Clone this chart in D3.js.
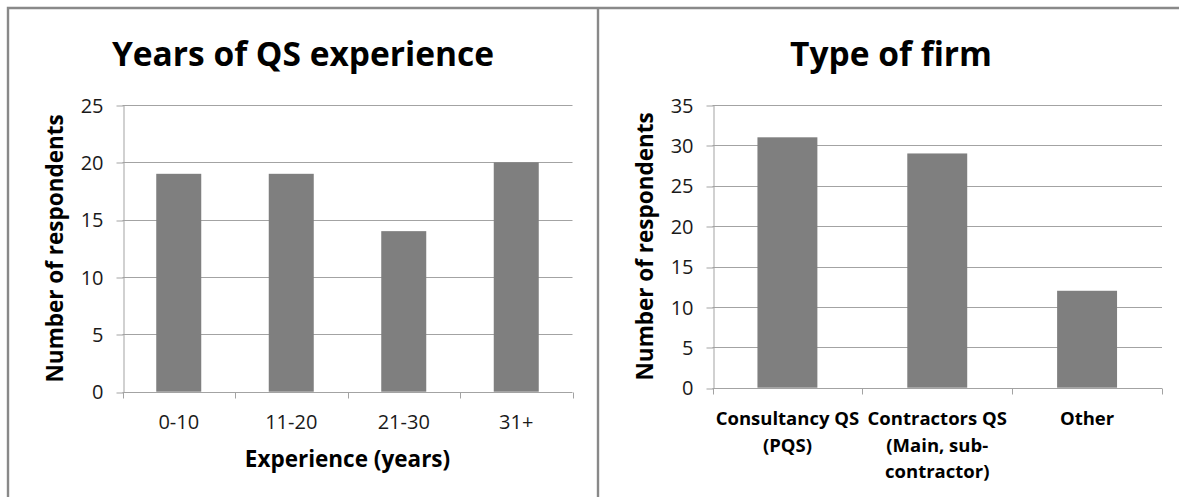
<!DOCTYPE html>
<html>
<head>
<meta charset="utf-8">
<script src="https://cdn.jsdelivr.net/npm/d3@7"></script>
<style>
  html, body { margin: 0; padding: 0; background: #fff; }
  svg { display: block; }
  text { font-family: "Open Sans", Lato, sans-serif; }
</style>
</head>
<body>
<svg id="chart" width="1179" height="497"></svg>
<script>
// Years of QS experience
const experienceCategories = ["0-10", "11-20", "21-30", "31+"];
const experienceValues = [19, 19, 14, 20];
const experienceTicks = [0, 5, 10, 15, 20, 25];

// Type of firm (category labels wrap over several lines)
const firmCategories = [
  ["Consultancy QS", "(PQS)"],
  ["Contractors QS", "(Main, sub-", "contractor)"],
  ["Other"]
];
const firmValues = [31, 29, 12];
const firmTicks = [0, 5, 10, 15, 20, 25, 30, 35];

const svg = d3.select("#chart");
const BORDER = "#898989";
const GRID = "#a3a3a3";
const BAR = "#7f7f7f";

// Panel frames
svg.append("path")
  .attr("d", "M8,497 V8 H1179 M598,8 V497")
  .attr("fill", "none")
  .attr("stroke", BORDER)
  .attr("stroke-width", 2.4);

function drawPanel(opt) {
  const g = svg.append("g");
  const keys = opt.categories.map((c, i) => i);
  const x = d3.scaleBand()
    .domain(keys)
    .range([opt.left, opt.right])
    .paddingInner(0.6)
    .paddingOuter(0.3);
  const y = d3.scaleLinear()
    .domain([0, d3.max(opt.ticks)])
    .range([opt.bottom, opt.top]);

  // Horizontal gridlines
  g.append("g").selectAll("line")
    .data(opt.ticks.filter(t => t > 0))
    .join("line")
    .attr("x1", opt.left).attr("x2", opt.right)
    .attr("y1", d => Math.round(y(d)) + 0.5)
    .attr("y2", d => Math.round(y(d)) + 0.5)
    .attr("stroke", GRID).attr("stroke-width", 1);

  // Bars
  g.append("g").selectAll("rect")
    .data(opt.values)
    .join("rect")
    .attr("x", (d, i) => x(i))
    .attr("width", x.bandwidth())
    .attr("y", d => y(d))
    .attr("height", d => y(0) - y(d))
    .attr("fill", BAR);

  // Value axis
  const yAxis = d3.axisLeft(y)
    .tickValues(opt.ticks)
    .tickSize(7)
    .tickSizeOuter(0)
    .tickPadding(13)
    .tickFormat(d3.format("d"));
  const ya = g.append("g")
    .attr("transform", `translate(${Math.round(opt.left) + 0.5},0)`)
    .call(yAxis);
  ya.select(".domain").attr("stroke", GRID);
  ya.selectAll(".tick line").attr("stroke", GRID)
    .attr("transform", d => `translate(0,${Math.round(y(d)) + 0.5 - y(d)})`);
  ya.selectAll(".tick text")
    .attr("fill", "#1a1a1a")
    .attr("font-size", 20)
    .attr("font-family", "'Open Sans', sans-serif")
    .attr("dy", "0.36em");

  // Category axis line with tick marks between categories
  const y0 = Math.round(y(0)) + 0.5;
  g.append("line")
    .attr("x1", opt.left).attr("x2", opt.right)
    .attr("y1", y0).attr("y2", y0)
    .attr("stroke", GRID);
  const bounds = d3.range(keys.length + 1).map(i => opt.left + i * x.step());
  g.append("g").selectAll("line")
    .data(bounds)
    .join("line")
    .attr("x1", d => Math.round(d) + 0.5).attr("x2", d => Math.round(d) + 0.5)
    .attr("y1", y0).attr("y2", y0 + 6)
    .attr("stroke", GRID);

  // Category labels
  const lab = g.append("g").selectAll("text")
    .data(opt.categories)
    .join("text")
    .attr("x", (d, i) => x(i) + x.bandwidth() / 2)
    .attr("y", opt.labelBaseline)
    .attr("text-anchor", "middle")
    .attr("font-size", opt.labelSize)
    .attr("font-weight", opt.labelWeight)
    .attr("fill", opt.labelWeight === "bold" ? "#000" : "#1a1a1a");
  lab.selectAll("tspan")
    .data(d => Array.isArray(d) ? d : [d])
    .join("tspan")
    .attr("x", function () { return this.parentNode.getAttribute("x"); })
    .attr("dy", (d, i) => i === 0 ? 0 : opt.lineHeight)
    .text(d => d);

  // Chart title
  g.append("text")
    .attr("x", opt.titleX)
    .attr("y", 65.5)
    .attr("text-anchor", "middle")
    .attr("font-size", 33.5)
    .attr("font-weight", "bold")
    .attr("fill", "#000")
    .text(opt.title);

  // Value axis title
  g.append("text")
    .attr("transform", `translate(${opt.yTitleX},${(opt.top + opt.bottom) / 2}) rotate(-90)`)
    .attr("text-anchor", "middle")
    .attr("font-size", 22.5)
    .attr("font-weight", "bold")
    .attr("fill", "#000")
    .text("Number of respondents");

  // Category axis title
  if (opt.xTitle) {
    g.append("text")
      .attr("x", (opt.left + opt.right) / 2)
      .attr("y", 467)
      .attr("text-anchor", "middle")
      .attr("font-size", 22.5)
      .attr("font-weight", "bold")
      .attr("fill", "#000")
      .text(opt.xTitle);
  }
}

drawPanel({
  categories: experienceCategories,
  values: experienceValues,
  ticks: experienceTicks,
  left: 122.5, right: 572.5, top: 105, bottom: 391.7,
  labelBaseline: 429, labelSize: 20, labelWeight: "normal", lineHeight: 26.7,
  title: "Years of QS experience", titleX: 303,
  yTitleX: 63,
  xTitle: "Experience (years)"
});

drawPanel({
  categories: firmCategories,
  values: firmValues,
  ticks: firmTicks,
  left: 712.5, right: 1162, top: 105, bottom: 387.7,
  labelBaseline: 425, labelSize: 18.5, labelWeight: "bold", lineHeight: 26.7,
  title: "Type of firm", titleX: 891,
  yTitleX: 653,
  xTitle: null
});
</script>
</body>
</html>
